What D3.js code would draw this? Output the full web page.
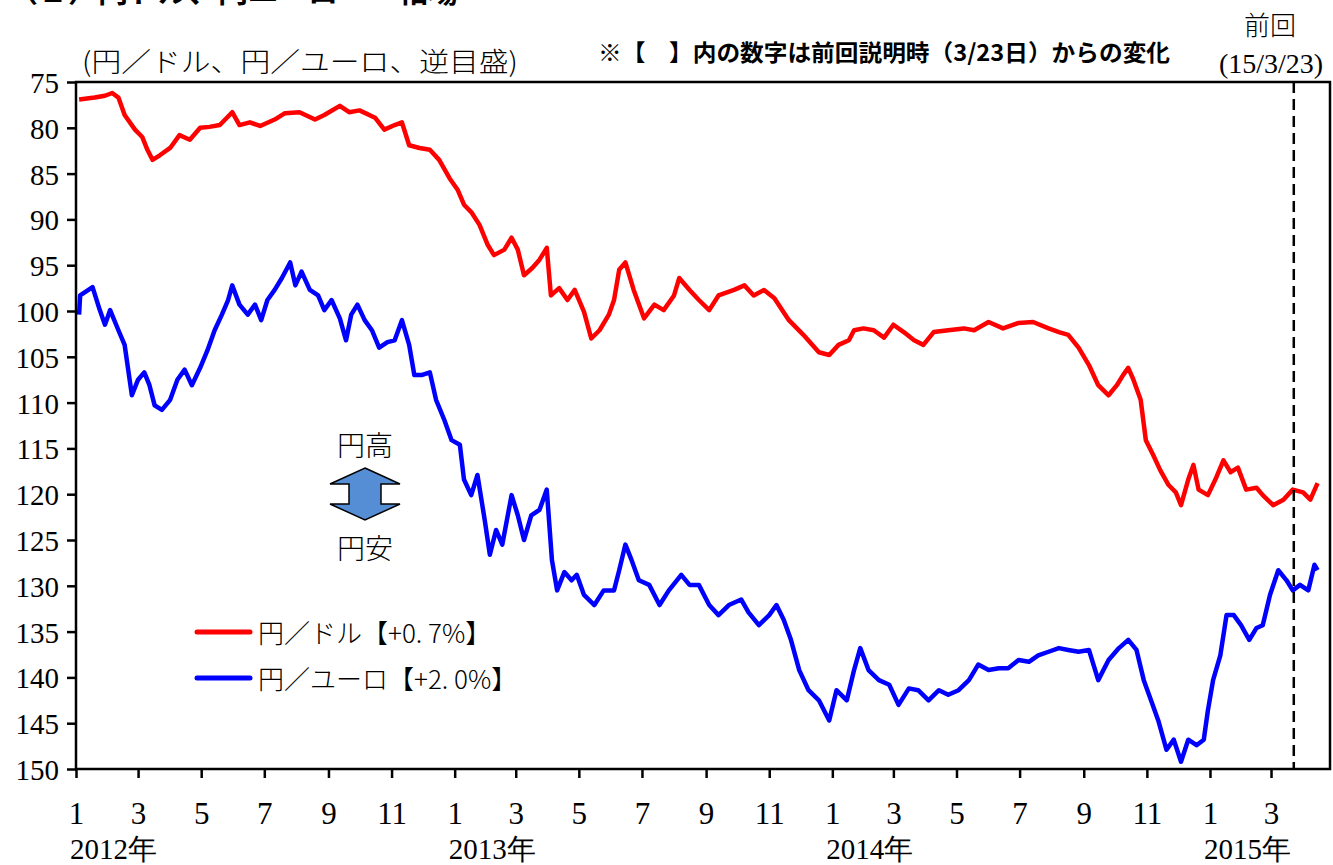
<!DOCTYPE html>
<html>
<head>
<meta charset="utf-8">
<script src="https://cdn.jsdelivr.net/npm/d3@7"></script>
<style>
  body { margin: 0; background: #fff; }
  svg { display: block; }
</style>
</head>
<body>
<div class="svg-container"></div>
<script>
(function () {

	"use strict";

	// data (円／ドル, 円／ユーロ)
	var usdDates = [
		"2012-01-04","2012-01-19","2012-01-29","2012-02-05","2012-02-11","2012-02-17","2012-02-27","2012-03-05",
		"2012-03-10","2012-03-15","2012-03-22","2012-04-01","2012-04-10","2012-04-20","2012-04-30","2012-05-09",
		"2012-05-19","2012-05-31","2012-06-07","2012-06-17","2012-06-27","2012-07-11","2012-07-21","2012-08-04",
		"2012-08-19","2012-08-28","2012-09-12","2012-09-21","2012-10-01","2012-10-16","2012-10-25","2012-11-04",
		"2012-11-11","2012-11-18","2012-11-28","2012-12-08","2012-12-17","2012-12-27","2013-01-04","2013-01-10",
		"2013-01-17","2013-01-25","2013-02-02","2013-02-08","2013-02-18","2013-02-25","2013-03-03","2013-03-09",
		"2013-03-17","2013-03-24","2013-03-31","2013-04-04","2013-04-12","2013-04-20","2013-04-27","2013-05-06",
		"2013-05-13","2013-05-21","2013-05-30","2013-06-04","2013-06-09","2013-06-15","2013-06-23","2013-07-03",
		"2013-07-13","2013-07-22","2013-08-01","2013-08-06","2013-08-16","2013-08-25","2013-09-04","2013-09-13",
		"2013-09-28","2013-10-08","2013-10-17","2013-10-27","2013-11-06","2013-11-20","2013-12-04","2013-12-19",
		"2013-12-29","2014-01-07","2014-01-17","2014-01-22","2014-01-31","2014-02-10","2014-02-20","2014-03-01",
		"2014-03-11","2014-03-21","2014-03-30","2014-04-09","2014-04-23","2014-05-08","2014-05-18","2014-06-01",
		"2014-06-15","2014-06-30","2014-07-14","2014-07-29","2014-08-08","2014-08-17","2014-08-27","2014-09-06",
		"2014-09-15","2014-09-25","2014-10-03","2014-10-09","2014-10-14","2014-10-19","2014-10-26","2014-10-31",
		"2014-11-07","2014-11-14","2014-11-22","2014-11-29","2014-12-04","2014-12-11","2014-12-16","2014-12-21",
		"2014-12-30","2015-01-07","2015-01-14","2015-01-21","2015-01-28","2015-02-05","2015-02-15","2015-02-21",
		"2015-03-03","2015-03-13","2015-03-22","2015-04-01","2015-04-08","2015-04-15"
	];
	var usdValues = [
		76.9, 76.7, 76.5, 76.2, 76.7, 78.6, 80.2, 81.0,
		82.4, 83.5, 83.0, 82.2, 80.8, 81.3, 80.0, 79.9,
		79.7, 78.3, 79.7, 79.4, 79.8, 79.1, 78.4, 78.3,
		79.1, 78.6, 77.6, 78.3, 78.1, 78.9, 80.2, 79.7,
		79.4, 81.9, 82.2, 82.4, 83.5, 85.5, 86.8, 88.4,
		89.2, 90.6, 92.8, 93.9, 93.3, 92.0, 93.3, 96.1,
		95.3, 94.4, 93.1, 98.3, 97.5, 98.8, 97.7, 100.1,
		103.0, 102.1, 100.4, 98.8, 95.5, 94.7, 97.7, 100.8,
		99.3, 99.9, 98.3, 96.4, 97.7, 98.8, 99.9, 98.3,
		97.7, 97.2, 98.3, 97.7, 98.6, 101.0, 102.6, 104.5,
		104.8, 103.7, 103.2, 102.1, 101.9, 102.1, 102.9, 101.5,
		102.3, 103.2, 103.7, 102.3, 102.1, 101.9, 102.1, 101.2,
		101.9, 101.3, 101.2, 101.9, 102.3, 102.6, 104.0, 105.9,
		108.1, 109.2, 108.1, 107.0, 106.2, 107.5, 109.7, 114.1,
		115.7, 117.4, 119.0, 119.8, 121.2, 118.4, 116.8, 119.5,
		120.1, 118.2, 116.3, 117.6, 117.1, 119.5, 119.3, 120.1,
		121.2, 120.6, 119.5, 119.8, 120.6, 118.8
	];

	var eurDates = [
		"2012-01-04","2012-01-05","2012-01-13","2012-01-17","2012-01-24","2012-01-29","2012-02-03","2012-02-11",
		"2012-02-17","2012-02-24","2012-03-01","2012-03-07","2012-03-12","2012-03-17","2012-03-24","2012-04-01",
		"2012-04-08","2012-04-15","2012-04-22","2012-04-30","2012-05-07","2012-05-14","2012-05-21","2012-05-27",
		"2012-05-31","2012-06-07","2012-06-15","2012-06-22","2012-06-28","2012-07-04","2012-07-11","2012-07-18",
		"2012-07-26","2012-07-31","2012-08-06","2012-08-14","2012-08-22","2012-08-28","2012-09-04","2012-09-12",
		"2012-09-18","2012-09-23","2012-09-29","2012-10-06","2012-10-13","2012-10-20","2012-10-28","2012-11-04",
		"2012-11-11","2012-11-18","2012-11-23","2012-11-30","2012-12-08","2012-12-14","2012-12-22","2012-12-29",
		"2013-01-06","2013-01-10","2013-01-17","2013-01-23","2013-01-30","2013-02-04","2013-02-10","2013-02-16",
		"2013-02-25","2013-03-03","2013-03-09","2013-03-16","2013-03-24","2013-03-31","2013-04-05","2013-04-10",
		"2013-04-17","2013-04-24","2013-04-29","2013-05-06","2013-05-16","2013-05-25","2013-06-04","2013-06-09",
		"2013-06-15","2013-06-21","2013-06-28","2013-07-08","2013-07-18","2013-07-27","2013-08-08","2013-08-16",
		"2013-08-25","2013-09-04","2013-09-13","2013-09-23","2013-10-05","2013-10-12","2013-10-22","2013-11-01",
		"2013-11-08","2013-11-15","2013-11-22","2013-11-30","2013-12-09","2013-12-19","2013-12-29","2014-01-05",
		"2014-01-15","2014-01-22","2014-01-28","2014-02-05","2014-02-15","2014-02-25","2014-03-06","2014-03-16",
		"2014-03-25","2014-04-04","2014-04-14","2014-04-23","2014-05-03","2014-05-13","2014-05-22","2014-06-01",
		"2014-06-11","2014-06-20","2014-06-30","2014-07-10","2014-07-19","2014-07-29","2014-08-08","2014-08-17",
		"2014-08-27","2014-09-06","2014-09-15","2014-09-25","2014-10-05","2014-10-14","2014-10-22","2014-10-29",
		"2014-11-05","2014-11-12","2014-11-20","2014-11-27","2014-12-04","2014-12-11","2014-12-19","2014-12-26",
		"2014-12-30","2015-01-04","2015-01-11","2015-01-17","2015-01-24","2015-01-31","2015-02-08","2015-02-15",
		"2015-02-21","2015-02-28","2015-03-08","2015-03-16","2015-03-22","2015-03-29","2015-04-06","2015-04-12",
		"2015-04-15"
	];
	var eurValues = [
		100.4, 98.3, 97.7, 97.4, 99.9, 101.5, 99.9, 102.1,
		103.7, 109.2, 107.5, 106.7, 108.1, 110.3, 110.8, 109.7,
		107.5, 106.4, 108.1, 106.2, 104.3, 102.1, 100.4, 98.8,
		97.2, 99.3, 100.4, 99.3, 101.0, 98.8, 97.7, 96.4,
		94.7, 97.2, 95.7, 97.7, 98.3, 99.9, 98.8, 100.8,
		103.2, 100.4, 99.3, 101.0, 102.1, 104.0, 103.4, 103.2,
		101.0, 103.7, 107.0, 107.0, 106.7, 109.7, 111.9, 114.1,
		114.6, 118.4, 120.1, 117.9, 122.8, 126.6, 123.9, 125.5,
		120.1, 122.3, 125.0, 122.3, 121.7, 119.5, 127.2, 130.5,
		128.5, 129.4, 128.8, 131.0, 132.1, 130.5, 130.5, 128.3,
		125.5, 127.2, 129.4, 129.9, 132.1, 130.5, 128.8, 129.9,
		129.9, 132.1, 133.2, 132.1, 131.5, 132.9, 134.3, 133.2,
		132.1, 133.7, 135.9, 139.2, 141.4, 142.5, 144.7, 141.4,
		142.5, 139.2, 136.8, 139.2, 140.3, 140.8, 143.0, 141.2,
		141.4, 142.5, 141.4, 141.9, 141.4, 140.3, 138.6, 139.2,
		139.0, 139.0, 138.1, 138.3, 137.6, 137.2, 136.8, 137.0,
		137.2, 137.0, 140.3, 138.1, 136.8, 135.9, 137.0, 140.3,
		142.5, 144.7, 147.9, 146.8, 149.2, 146.8, 147.4, 146.8,
		143.6, 140.3, 137.6, 133.2, 133.2, 134.3, 135.9, 134.6,
		134.3, 131.0, 128.3, 129.4, 130.5, 129.9, 130.5, 127.7,
		128.3
	];

	var seriesNames  = [ "円／ドル", "円／ユーロ" ];
	var seriesChange = [ "【+0. 7%】", "【+2. 0%】" ];
	var seriesColors = [ "#ff0000", "#0000ff" ];

	var yTicks   = d3.range( 75, 151, 5 );
	var years    = [ 2012, 2013, 2014, 2015 ];
	var lastDate = "2015-03-23";

	var parse = d3.timeParse( "%Y-%m-%d" );

	var width = 1333, height = 865;
	var margin = { "top": 82, "right": 3, "bottom": 96, "left": 76 };

	var jp    = "'Noto Sans CJK JP', sans-serif";
	var serif = "'Liberation Serif', 'DejaVu Serif', serif";

	var svg = d3.select( ".svg-container" ).append( "svg" )
		.attr( "width", width )
		.attr( "height", height );

	var x = d3.scaleTime()
		.domain([ new Date( 2012, 0, 1 ), new Date( 2015, 3, 27 ) ])
		.range([ margin.left, width - margin.right ]);

	var y = d3.scaleLinear()
		.domain([ 75, 150 ])
		.range([ margin.top, height - margin.bottom ]);

	var series = [ [ usdDates, usdValues ], [ eurDates, eurValues ] ].map( function ( s ) {
		return s[0].map( function ( d, i ) { return { date: parse( d ), value: s[1][i] }; });
	});

	// title, cut by the top edge as in the source
	svg.append( "text" )
		.attr( "x", 8 ).attr( "y", 2 )
		.style( "font-family", jp ).style( "font-weight", 700 ).style( "font-size", "30px" )
		.text( "（２）円ドル、円ユーロ　　相場" );

	// lines
	var line = d3.line()
		.x( function ( d ) { return x( d.date ); })
		.y( function ( d ) { return y( d.value ); });

	svg.selectAll( ".series" )
		.data( series )
		.enter()
		.append( "path" )
		.attr( "class", "series" )
		.attr( "fill", "none" )
		.attr( "stroke", function ( d, i ) { return seriesColors[i]; })
		.attr( "stroke-width", 4.5 )
		.attr( "stroke-linejoin", "round" )
		.attr( "d", line );

	// previous briefing marker
	svg.append( "line" )
		.attr( "x1", x( parse( lastDate ) ) ).attr( "x2", x( parse( lastDate ) ) )
		.attr( "y1", y( 75 ) ).attr( "y2", y( 150 ) )
		.attr( "stroke", "#000" )
		.attr( "stroke-width", 2.5 )
		.attr( "stroke-dasharray", "11,6" );

	// frame
	svg.append( "rect" )
		.attr( "x", margin.left ).attr( "y", margin.top )
		.attr( "width", width - margin.right - margin.left )
		.attr( "height", height - margin.bottom - margin.top )
		.attr( "fill", "none" )
		.attr( "stroke", "#000" )
		.attr( "stroke-width", 2.5 );

	// y axis
	var yAxis = svg.append( "g" )
		.attr( "transform", "translate(" + margin.left + ",0)" )
		.call( d3.axisLeft( y ).tickValues( yTicks ).tickSize( 9 ).tickPadding( 8 ) );
	yAxis.attr( "font-family", null ).attr( "font-size", null );
	yAxis.select( ".domain" ).remove();
	yAxis.selectAll( "line" ).attr( "stroke-width", 2.5 );
	yAxis.selectAll( "text" )
		.style( "font-family", serif ).style( "font-size", "29px" ).attr( "fill", "#000" ).attr( "dy", "0.36em" );

	// x axis
	var xAxis = svg.append( "g" )
		.attr( "transform", "translate(0," + ( height - margin.bottom ) + ")" )
		.call( d3.axisBottom( x )
			.tickValues( d3.timeMonth.every( 2 ).range( new Date( 2012, 0, 1 ), new Date( 2015, 3, 2 ) ) )
			.tickFormat( function ( d ) { return d.getMonth() + 1; })
			.tickSize( 9 ).tickPadding( 24 ) );
	xAxis.attr( "font-family", null ).attr( "font-size", null );
	xAxis.select( ".domain" ).remove();
	xAxis.selectAll( "line" ).attr( "stroke-width", 2.5 );
	xAxis.selectAll( "text" )
		.style( "font-family", serif ).style( "font-size", "31px" ).attr( "fill", "#000" );

	svg.selectAll( ".year" )
		.data( years )
		.enter()
		.append( "text" )
		.attr( "class", "year" )
		.attr( "x", function ( d ) { return x( new Date( d, 0, 1 ) ) - 6; })
		.attr( "y", 859 )
		.style( "font-family", serif ).style( "font-size", "29px" )
		.text( function ( d ) { return d + "年"; });

	// headings
	svg.append( "text" )
		.attr( "x", 82 ).attr( "y", 72 )
		.style( "font-family", jp ).style( "font-weight", 300 ).style( "font-size", "27px" )
		.attr( "textLength", 436 ).attr( "lengthAdjust", "spacingAndGlyphs" )
		.text( "(円／ドル、円／ユーロ、逆目盛)" );

	svg.append( "text" )
		.attr( "x", 598 ).attr( "y", 61 )
		.style( "font-family", jp ).style( "font-weight", 700 ).style( "font-size", "23px" )
		.attr( "textLength", 572 ).attr( "lengthAdjust", "spacingAndGlyphs" )
		.text( "※【　】内の数字は前回説明時（3/23日）からの変化" );

	svg.append( "text" )
		.attr( "x", 1270 ).attr( "y", 35 )
		.attr( "text-anchor", "middle" )
		.style( "font-family", jp ).style( "font-weight", 300 ).style( "font-size", "26px" )
		.text( "前回" );

	svg.append( "text" )
		.attr( "x", 1271 ).attr( "y", 73 )
		.attr( "text-anchor", "middle" )
		.style( "font-family", serif ).style( "font-size", "28px" )
		.text( "(15/3/23)" );

	// 円高 / 円安 arrow
	var ax = 365;
	svg.append( "path" )
		.attr( "d", "M" + ax + ",468 L" + ( ax + 35 ) + ",484 L" + ( ax + 16 ) + ",484 L" + ( ax + 16 ) + ",504 L" +
			( ax + 35 ) + ",504 L" + ax + ",520 L" + ( ax - 35 ) + ",504 L" + ( ax - 16 ) + ",504 L" +
			( ax - 16 ) + ",484 L" + ( ax - 35 ) + ",484 Z" )
		.attr( "fill", "#558ed5" )
		.attr( "stroke", "#000" )
		.attr( "stroke-width", 1.5 );

	svg.append( "text" )
		.attr( "x", ax ).attr( "y", 456 ).attr( "text-anchor", "middle" )
		.style( "font-family", jp ).style( "font-weight", 300 ).style( "font-size", "28px" )
		.text( "円高" );
	svg.append( "text" )
		.attr( "x", ax ).attr( "y", 559 ).attr( "text-anchor", "middle" )
		.style( "font-family", jp ).style( "font-weight", 300 ).style( "font-size", "28px" )
		.text( "円安" );

	// legend
	var legend = svg.selectAll( ".legend" )
		.data( seriesNames )
		.enter()
		.append( "g" )
		.attr( "class", "legend" )
		.attr( "transform", function ( d, i ) { return "translate(197," + ( 632 + i * 46 ) + ")"; });

	legend.append( "line" )
		.attr( "x1", 0 ).attr( "x2", 53 )
		.attr( "stroke", function ( d, i ) { return seriesColors[i]; })
		.attr( "stroke-width", 5 )
		.attr( "stroke-linecap", "round" );

	legend.append( "text" )
		.attr( "x", 61 ).attr( "y", 11 )
		.style( "font-family", jp ).style( "font-weight", 300 ).style( "font-size", "26px" )
		.text( function ( d, i ) { return d + seriesChange[i]; });

})();
</script>
</body>
</html>
